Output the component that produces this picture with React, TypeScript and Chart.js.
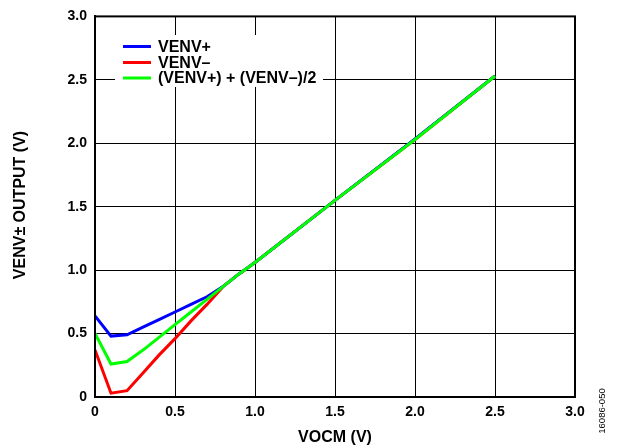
import React, { useEffect, useRef } from "react";
import { Chart, registerables } from "chart.js";

Chart.register(...registerables);

const vocm = [0, 0.1, 0.2, 0.3, 0.4, 0.5, 0.6, 0.7, 0.8, 0.9, 1.0, 1.5, 2.0, 2.5];
const venvPlus = [0.64, 0.48, 0.49, 0.55, 0.61, 0.67, 0.73, 0.79, 0.87, 0.97, 1.06, 1.55, 2.035, 2.53];
const venvMinus = [0.37, 0.03, 0.05, 0.19, 0.33, 0.46, 0.6, 0.73, 0.87, 0.97, 1.06, 1.55, 2.03, 2.53];
const venvAvg = [0.5, 0.26, 0.28, 0.37, 0.47, 0.57, 0.67, 0.77, 0.87, 0.97, 1.06, 1.55, 2.03, 2.53];

const seriesNames = ["VENV+", "VENV\u2013", "(VENV+) + (VENV\u2013)/2"];
const seriesColors = ["#0000ff", "#ff0000", "#00ff00"];
const xTitle = "VOCM (V)";
const yTitle = "VENV\u00b1 OUTPUT (V)";
const figureCode = "16086-050";

const FONT = "'Liberation Sans', Arial, Helvetica, sans-serif";

const toPoints = (ys: number[]) => vocm.map((x, i) => ({ x, y: ys[i] }));

const decorPlugin = {
  id: "decor",
  beforeDatasetsDraw(chart: any) {
    const ctx = chart.ctx;
    ctx.save();
    ctx.fillStyle = "#ffffff";
    ctx.fillRect(115, 35, 208, 52);
    ctx.restore();
  },
  afterDraw(chart: any) {
    const ctx = chart.ctx;
    const a = chart.chartArea;
    ctx.save();
    // border
    ctx.strokeStyle = "#000";
    ctx.lineWidth = 2;
    ctx.strokeRect(a.left, a.top, a.right - a.left, a.bottom - a.top);
    // legend
    const rows = [46.5, 62.5, 78];
    ctx.font = `bold 16px ${FONT}`;
    ctx.textBaseline = "middle";
    ctx.textAlign = "left";
    rows.forEach((y, i) => {
      ctx.strokeStyle = seriesColors[i];
      ctx.lineWidth = 3;
      ctx.beginPath();
      ctx.moveTo(123, y);
      ctx.lineTo(151, y);
      ctx.stroke();
      ctx.fillStyle = "#000";
      ctx.fillText(seriesNames[i], 158, y + 1);
    });
    // x title
    ctx.textAlign = "center";
    ctx.font = `bold 16px ${FONT}`;
    ctx.fillText(xTitle, (a.left + a.right) / 2, 438);
    // y title
    ctx.save();
    ctx.translate(21, 205);
    ctx.rotate(-Math.PI / 2);
    ctx.fillText(yTitle, 0, 0);
    ctx.restore();
    // figure code
    ctx.save();
    ctx.translate(602, 411);
    ctx.rotate(-Math.PI / 2);
    ctx.font = `9.5px ${FONT}`;
    ctx.fillText(figureCode, 0, 0);
    ctx.restore();
    ctx.restore();
  },
};

export default function App() {
  const ref = useRef<HTMLCanvasElement | null>(null);
  useEffect(() => {
    if (!ref.current) return;
    const chart = new Chart(ref.current, {
      type: "line",
      data: {
        datasets: [
          { label: seriesNames[0], data: toPoints(venvPlus), borderColor: seriesColors[0], order: 1 },
          { label: seriesNames[1], data: toPoints(venvMinus), borderColor: seriesColors[1], order: 2 },
          { label: seriesNames[2], data: toPoints(venvAvg), borderColor: seriesColors[2], order: 0 },
        ].map((d) => ({ ...d, borderWidth: 3, pointRadius: 0, tension: 0, fill: false })),
      },
      options: {
        responsive: false,
        maintainAspectRatio: false,
        devicePixelRatio: 1,
        animation: false,
        layout: { padding: { top: 14, right: 51, left: 0, bottom: 0 } },
        plugins: { legend: { display: false }, tooltip: { enabled: false } },
        scales: {
          x: {
            type: "linear",
            min: 0,
            max: 3,
            afterFit: (s: any) => { s.height = 51; },
            grid: { color: "#000", lineWidth: 1, drawTicks: false },
            border: { display: true, color: "#000", width: 2 },
            ticks: {
              stepSize: 0.5,
              padding: 7,
              color: "#000",
              font: { family: FONT, size: 14, weight: "bold" },
              callback: (v: any) => (v === 0 ? "0" : Number(v).toFixed(1)),
            },
          },
          y: {
            type: "linear",
            min: 0,
            max: 3,
            afterFit: (s: any) => { s.width = 95; },
            grid: { color: "#000", lineWidth: 1, drawTicks: false },
            border: { display: true, color: "#000", width: 2 },
            ticks: {
              stepSize: 0.5,
              padding: 8,
              color: "#000",
              font: { family: FONT, size: 14, weight: "bold" },
              callback: (v: any) => (v === 0 ? "0" : Number(v).toFixed(1)),
            },
          },
        },
      },
      plugins: [decorPlugin],
    } as any);
    return () => chart.destroy();
  }, []);
  return (
    <div style={{ position: "absolute", left: 0, top: 0, width: 626, height: 448, background: "#fff" }}>
      <canvas ref={ref} width={626} height={448} />
    </div>
  );
}
